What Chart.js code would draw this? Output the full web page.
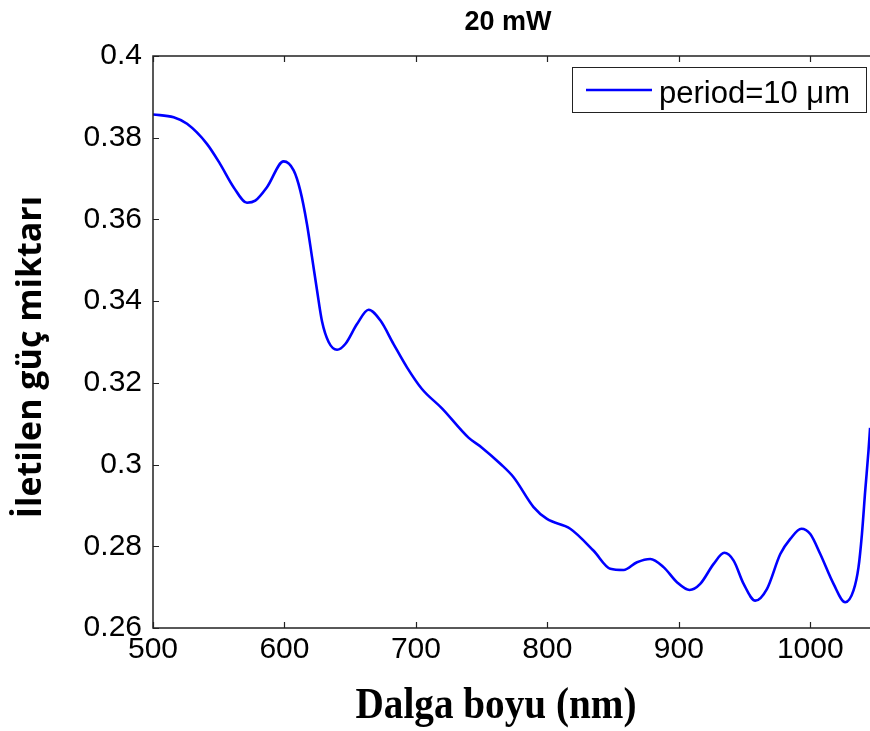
<!DOCTYPE html>
<html>
<head>
<meta charset="utf-8">
<script src="https://cdn.jsdelivr.net/npm/chart.js@4"></script>
<style>
  html, body { margin: 0; padding: 0; background: #fff; overflow: hidden; }
  #wrap { width: 870px; height: 731px; overflow: hidden; }
</style>
</head>
<body>
<div id="wrap"><canvas id="powerChart" width="880" height="731"></canvas></div>
<script>
// --- Data ---
const wavelength = [500, 515.7, 525.9, 541, 551, 561.3, 571.5, 577.8, 586.7, 599.4, 607, 612, 617.1, 621, 624.8,
  628.6, 633.6, 640, 646.3, 655.2, 664, 672.9, 683, 693.2, 704.6, 720, 740, 750, 764.2, 774.3, 789.5, 799.7,
  817.4, 835.2, 847.9, 858, 868.2, 878.3, 888.4, 898.6, 908.2, 916.3, 926.5, 934.6, 941.7, 949.3, 958.2,
  967.1, 977.2, 984.8, 993.2, 1000, 1007.6, 1017.7, 1026.6, 1032.9, 1036.7, 1039.3, 1041.8, 1044.3, 1045.5];
const power = [0.3857, 0.3850, 0.3834, 0.3785, 0.3736, 0.3679, 0.3641, 0.3646, 0.3679, 0.3742, 0.3720, 0.3671,
  0.3589, 0.3507, 0.3426, 0.3350, 0.3300, 0.3281, 0.3295, 0.3344, 0.3379, 0.3353, 0.3295, 0.3238, 0.3185,
  0.3137, 0.3066, 0.3042, 0.3002, 0.2969, 0.2896, 0.2867, 0.2843, 0.2789, 0.2745, 0.2742, 0.2761, 0.2769,
  0.2749, 0.2712, 0.2693, 0.2708, 0.2757, 0.2784, 0.2765, 0.2708, 0.2667, 0.2696, 0.2781, 0.2818, 0.2843,
  0.2830, 0.2781, 0.2708, 0.2663, 0.2692, 0.2749, 0.2830, 0.2936, 0.3034, 0.3090];
const xTicks = [500, 600, 700, 800, 900, 1000];
const yTicks = [0.26, 0.28, 0.3, 0.32, 0.34, 0.36, 0.38, 0.4];
const seriesLabel = 'period=10 \u03bcm';
const titleText = '20 mW';
const xTitle = 'Dalga boyu (nm)';
const yTitle = '\u0130letilen g\u00fc\u00e7 miktar\u0131';

const axisColor = '#222';

// Box, inward ticks, legend and titles (MATLAB look)
const matlabFrame = {
  id: 'matlabFrame',
  afterDraw(chart) {
    const ctx = chart.ctx;
    const a = chart.chartArea;
    const xs = chart.scales.x, ys = chart.scales.y;
    const tl = 6;

    ctx.save();
    ctx.strokeStyle = axisColor;
    ctx.lineWidth = 1.5;
    ctx.strokeRect(a.left, a.top, a.right - a.left, a.bottom - a.top);

    ctx.lineWidth = 1.2;
    ctx.beginPath();
    xTicks.forEach(v => {
      const px = Math.round(xs.getPixelForValue(v)) + 0.5;
      ctx.moveTo(px, a.bottom); ctx.lineTo(px, a.bottom - tl);
      ctx.moveTo(px, a.top); ctx.lineTo(px, a.top + tl);
    });
    yTicks.forEach(v => {
      const py = Math.round(ys.getPixelForValue(v)) + 0.5;
      ctx.moveTo(a.left, py); ctx.lineTo(a.left + tl, py);
      ctx.moveTo(a.right, py); ctx.lineTo(a.right - tl, py);
    });
    ctx.stroke();

    // legend
    const ds = chart.data.datasets[0];
    const lx = 572, ly = 67, lw = 294, lh = 45;
    ctx.fillStyle = '#fff';
    ctx.fillRect(lx, ly, lw, lh);
    ctx.lineWidth = 1;
    ctx.strokeStyle = axisColor;
    ctx.strokeRect(lx + 0.5, ly + 0.5, lw, lh);
    ctx.strokeStyle = ds.borderColor;
    ctx.lineWidth = 2.5;
    ctx.beginPath();
    ctx.moveTo(586, 90); ctx.lineTo(652, 90);
    ctx.stroke();
    ctx.fillStyle = '#000';
    ctx.font = '31px "Liberation Sans", Arial, sans-serif';
    ctx.textAlign = 'left';
    ctx.textBaseline = 'alphabetic';
    ctx.fillText(ds.label, 659, 103);

    // title
    ctx.font = 'bold 27px "Liberation Sans", Arial, sans-serif';
    ctx.textAlign = 'center';
    ctx.textBaseline = 'middle';
    ctx.fillText(titleText, 508, 23);

    // x axis title (condensed serif)
    ctx.font = 'bold 44px "Liberation Serif", "Times New Roman", serif';
    const w = ctx.measureText(xTitle).width;
    ctx.save();
    ctx.translate(496, 707);
    ctx.scale(281 / w, 1);
    ctx.fillText(xTitle, 0, 0);
    ctx.restore();

    // y axis title
    ctx.save();
    ctx.translate(31, 357);
    ctx.rotate(-Math.PI / 2);
    ctx.font = 'bold 34px "Open Sans", "Noto Sans", sans-serif';
    ctx.fillText(yTitle, 0, 0);
    ctx.restore();

    ctx.restore();
  }
};

new Chart(document.getElementById('powerChart'), {
  type: 'line',
  data: {
    datasets: [{
      label: seriesLabel,
      data: wavelength.map((w, i) => ({ x: w, y: power[i] })),
      borderColor: '#0000ff',
      borderWidth: 2.6,
      pointRadius: 0,
      fill: false,
      cubicInterpolationMode: 'monotone'
    }]
  },
  options: {
    responsive: false,
    animation: false,
    devicePixelRatio: 1,
    layout: { padding: { top: 56, right: 4, left: 0, bottom: 0 } },
    plugins: { legend: { display: false }, tooltip: { enabled: false } },
    scales: {
      x: {
        type: 'linear',
        min: 500,
        max: 1050,
        afterBuildTicks: s => { s.ticks = xTicks.map(v => ({ value: v })); },
        afterFit: s => { s.height = 103; },
        grid: { display: false, drawTicks: false },
        border: { display: false },
        ticks: {
          color: '#000',
          padding: 4,
          maxRotation: 0,
          font: { family: '"Liberation Sans", Arial, sans-serif', size: 30 },
          callback: v => String(v)
        }
      },
      y: {
        min: 0.26,
        max: 0.4,
        afterBuildTicks: s => { s.ticks = yTicks.map(v => ({ value: v })); },
        afterFit: s => { s.width = 153; },
        grid: { display: false, drawTicks: false },
        border: { display: false },
        ticks: {
          color: '#000',
          padding: 11,
          font: { family: '"Liberation Sans", Arial, sans-serif', size: 30 },
          callback: v => String(Number(v.toFixed(2)))
        }
      }
    }
  },
  plugins: [matlabFrame]
});
</script>
</body>
</html>
